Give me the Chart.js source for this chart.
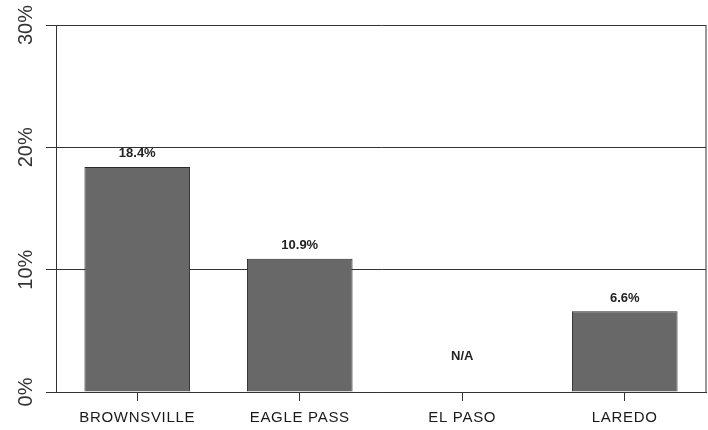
<!DOCTYPE html>
<html>
<head>
<meta charset="utf-8">
<script src="https://cdn.jsdelivr.net/npm/chart.js@4"></script>
<style>
  html, body { margin: 0; padding: 0; background: #fff; }
  #wrap { width: 708px; height: 430px; }
</style>
</head>
<body>
<div id="wrap"><canvas id="chart" width="708" height="430"></canvas></div>
<script>
// valores
const cities = ['BROWNSVILLE', 'EAGLE PASS', 'EL PASO', 'LAREDO'];
const shares = [18.4, 10.9, null, 6.6];
const shareLabels = ['18.4%', '10.9%', 'N/A', '6.6%'];
const yTicks = [0, 10, 20, 30];

const ink = '#333';

// rótulos dos eixos, rótulos das barras e a borda direita
const extras = {
  id: 'extras',
  afterDraw(chart) {
    const { ctx, chartArea, scales } = chart;
    const y = scales.y, x = scales.x;
    ctx.save();

    // borda direita
    ctx.strokeStyle = ink;
    ctx.lineWidth = 1;
    ctx.beginPath();
    ctx.moveTo(chartArea.right, chartArea.top);
    ctx.lineTo(chartArea.right, chartArea.bottom);
    ctx.stroke();

    // eixo y (texto girado)
    ctx.fillStyle = '#333';
    ctx.font = '20px "Liberation Sans", Arial, sans-serif';
    ctx.textAlign = 'center';
    ctx.textBaseline = 'middle';
    yTicks.forEach(v => {
      ctx.save();
      ctx.translate(26, y.getPixelForValue(v));
      ctx.rotate(-Math.PI / 2);
      ctx.fillText(v + '%', 0, 0);
      ctx.restore();
    });

    // eixo x, com um pouco de espaçamento entre letras
    ctx.fillStyle = '#1a1a1a';
    ctx.font = '15px "Liberation Sans", Arial, sans-serif';
    ctx.letterSpacing = '0.7px';
    cities.forEach((c, i) => {
      ctx.fillText(c, x.getPixelForValue(i), 418);
    });
    ctx.letterSpacing = '0px';

    // valores
    ctx.fillStyle = '#222';
    ctx.font = 'bold 13px "Liberation Sans", Arial, sans-serif';
    shares.forEach((v, i) => {
      const cx = x.getPixelForValue(i);
      const cy = v === null ? y.getPixelForValue(2.9) : y.getPixelForValue(v) - 13;
      ctx.fillText(shareLabels[i], cx, cy);
    });
    ctx.restore();
  }
};

new Chart(document.getElementById('chart'), {
  type: 'bar',
  data: {
    labels: cities,
    datasets: [{
      data: shares,
      backgroundColor: '#686868',
      borderColor: '#2a2a2a',
      borderWidth: 1,
      barPercentage: 0.65,
      categoryPercentage: 1
    }]
  },
  options: {
    responsive: false,
    animation: false,
    layout: { padding: { left: 0, right: 2, top: 25, bottom: 0 } },
    plugins: { legend: { display: false }, tooltip: { enabled: false } },
    scales: {
      x: {
        grid: { display: true, drawOnChartArea: false, offset: false, tickLength: 9, color: ink },
        border: { color: ink, width: 1 },
        ticks: { display: false },
        afterFit(s) { s.height = 38; }
      },
      y: {
        min: 0,
        max: 30,
        ticks: { stepSize: 10, display: false },
        grid: { color: ink, tickLength: 10, lineWidth: 1 },
        border: { color: ink, width: 1 },
        afterFit(s) { s.width = 56; }
      }
    }
  },
  plugins: [extras]
});
</script>
</body>
</html>
